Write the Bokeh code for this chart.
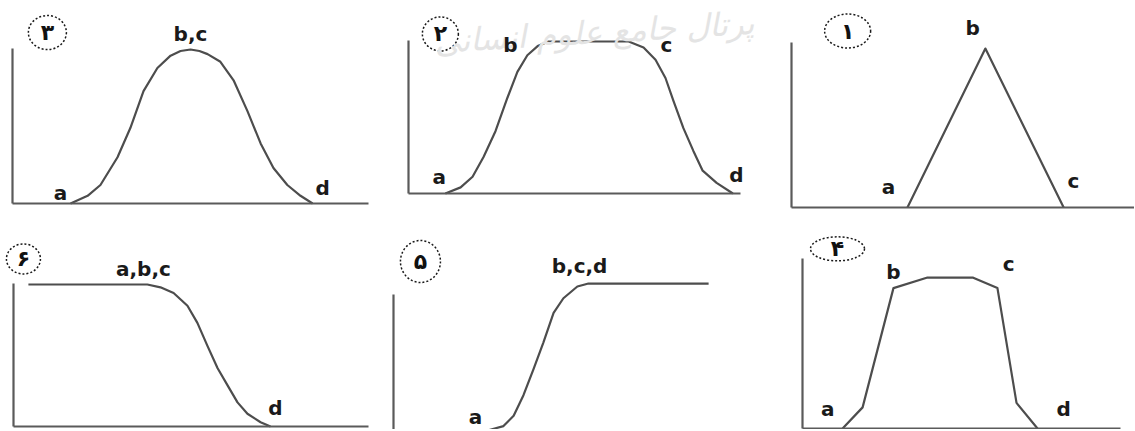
from bokeh.plotting import figure
from bokeh.layouts import column, row
from bokeh.models import Range1d, FixedTicker, Label
from bokeh.embed import file_html
from bokeh.resources import INLINE

# ---------------- data (x in universe units 0..10, mu = membership) ----------------
# Panel 3: bell-shaped (a, b=c, d)
bell_x = [1.63, 2.11, 2.47, 2.95, 3.31, 3.68, 4.07, 4.44, 4.72, 5.00, 5.25, 5.48, 5.84, 6.21, 6.60, 6.97, 7.33, 7.72, 8.09, 8.43]
bell_mu = [0.00, 0.05, 0.12, 0.30, 0.49, 0.73, 0.88, 0.96, 0.99, 1.00, 0.99, 0.97, 0.92, 0.80, 0.60, 0.39, 0.23, 0.12, 0.05, 0.00]

# Panel 2: smooth trapezoid (a, b, c, d)
strap_x = [1.11, 1.57, 1.93, 2.26, 2.62, 2.98, 3.28, 3.58, 3.89, 4.22, 6.63, 7.08, 7.44, 7.74, 7.98, 8.28, 8.58, 8.86, 9.28, 9.77]
strap_mu = [0.00, 0.04, 0.11, 0.24, 0.41, 0.63, 0.80, 0.91, 0.97, 1.00, 1.00, 0.96, 0.88, 0.76, 0.61, 0.43, 0.28, 0.15, 0.07, 0.00]

# Panel 1: triangle (a, b, c)
tri_x = [3.45, 5.77, 8.10]
tri_mu = [0.00, 1.00, 0.00]

# Panel 6: Z-shaped (a=b=c, d)
zdec_x = [0.42, 3.77, 4.14, 4.51, 4.90, 5.18, 5.46, 5.75, 6.03, 6.31, 6.59, 6.96, 7.24]
zdec_mu = [1.00, 1.00, 0.98, 0.94, 0.85, 0.73, 0.57, 0.41, 0.29, 0.17, 0.09, 0.03, 0.00]

# Panel 5: S-shaped (a, b=c=d)
sinc_x = [2.97, 3.47, 3.79, 4.10, 4.42, 4.73, 5.05, 5.36, 5.80, 6.15, 9.94]
sinc_mu = [0.00, 0.03, 0.10, 0.24, 0.42, 0.60, 0.80, 0.90, 0.98, 1.00, 1.00]

# Panel 4: trapezoid (a, b, c, d)
trap_x = [1.26, 1.89, 2.86, 3.93, 5.35, 6.13, 6.73, 7.39]
trap_mu = [0.00, 0.14, 0.93, 1.00, 1.00, 0.93, 0.17, 0.00]

badges = ["۳", "۲", "۱", "۶", "۵", "۴"]
watermark = "پرتال جامع علوم انسانی"

LINE = "#4d4d4d"
AXIS = "#5a5a5a"
TXT = "#1a1a1a"
FONT = "DejaVu Sans"


def panel(spec):
    p = figure(width=spec["w"], height=spec["h"],
               x_range=Range1d(*spec["xr"]), y_range=Range1d(*spec["yr"]),
               output_backend="svg", toolbar_location=None,
               min_border_left=0, min_border_bottom=0,
               min_border_top=0, min_border_right=0,
               outline_line_color=None, background_fill_color="white")
    p.grid.visible = False
    for ax in (p.xaxis, p.yaxis):
        ax.ticker = FixedTicker(ticks=[])
        ax.fixed_location = 0
        ax.major_tick_out = 0
        ax.major_tick_in = 0
        ax.minor_tick_out = 0
        ax.minor_tick_in = 0
        ax.major_label_standoff = 0
        ax.axis_line_color = AXIS
        ax.axis_line_width = 2.2
    p.xaxis.bounds = (0, spec["xb"])
    p.yaxis.bounds = (0, spec["yb"])
    if not spec.get("xaxis", True):
        p.xaxis.axis_line_color = None

    if "wm" in spec:
        wx, wy = spec["wm"]
        p.add_layout(Label(x=wx, y=wy, text=watermark, text_font=FONT, text_font_size="32px",
                           text_font_style="italic", text_color="#e4e4e4",
                           text_align="center", text_baseline="middle", angle=0.06))

    p.line(spec["x"], spec["y"], line_color=LINE, line_width=2.2, line_join="round")

    for (lx, ly, lt) in spec["labels"]:
        p.add_layout(Label(x=lx, y=ly, text=lt, text_font=FONT, text_font_size="20px",
                           text_font_style="bold", text_color=TXT,
                           text_align="center", text_baseline="middle"))

    bx, by, rx, ry, bt = spec["badge"]
    p.ellipse(x=[bx], y=[by], width=2 * rx, height=2 * ry,
              width_units="screen", height_units="screen",
              fill_color=None, line_color="#1a1a1a", line_width=1.5, line_dash="2 2")
    p.add_layout(Label(x=bx, y=by, text=bt, text_font=FONT, text_font_size="22px",
                       text_font_style="bold", text_color="#111111",
                       text_align="center", text_baseline="middle"))
    return p


specs = [
    dict(w=380, h=215, xr=(-0.337, 10.337), yr=(-0.078, 1.318), xb=10, yb=1.006,
         x=bell_x, y=bell_mu,
         labels=[(1.35, 0.07, "a"), (5.0, 1.10, "b,c"), (8.71, 0.10, "d")],
         badge=(0.98, 1.11, 19, 17, badges[0])),
    dict(w=380, h=215, xr=(-0.843, 10.602), yr=(-0.145, 1.270), xb=10, yb=1.007,
         x=strap_x, y=strap_mu,
         labels=[(0.93, 0.11, "a"), (3.07, 0.98, "b"), (7.77, 0.98, "c"), (9.88, 0.12, "d")],
         badge=(0.96, 1.05, 18, 17, badges[1]),
         wm=(5.6, 1.06)),
    dict(w=374, h=215, xr=(-0.923, 10.208), yr=(-0.050, 1.302), xb=10.208, yb=1.038,
         x=tri_x, y=tri_mu,
         labels=[(2.89, 0.13, "a"), (5.39, 1.13, "b"), (8.39, 0.17, "c")],
         badge=(1.67, 1.11, 23, 17, badges[2])),
    dict(w=380, h=214, xr=(-0.366, 10.338), yr=(-0.021, 1.486), xb=10, yb=1.007,
         x=zdec_x, y=zdec_mu,
         labels=[(3.66, 1.11, "a,b,c"), (7.38, 0.13, "d")],
         badge=(0.28, 1.18, 17, 15, badges[3])),
    dict(w=380, h=214, xr=(-0.410, 11.577), yr=(0.0068, 1.463), xb=10, yb=0.925,
         x=sinc_x, y=sinc_mu, xaxis=False,
         labels=[(2.59, 0.09, "a"), (5.87, 1.12, "b,c,d")],
         badge=(0.85, 1.15, 20, 21, badges[4])),
    dict(w=374, h=214, xr=(-1.321, 10.440), yr=(-0.0066, 1.411), xb=10, yb=1.126,
         x=trap_x, y=trap_mu,
         labels=[(0.79, 0.13, "a"), (2.86, 1.04, "b"), (6.48, 1.09, "c"), (8.21, 0.13, "d")],
         badge=(1.10, 1.19, 27, 12, badges[5])),
]

figs = [panel(s) for s in specs]
layout = column(row(*figs[:3], spacing=0), row(*figs[3:], spacing=0), spacing=0)

open("out.html", "w").write(file_html(layout, INLINE))
